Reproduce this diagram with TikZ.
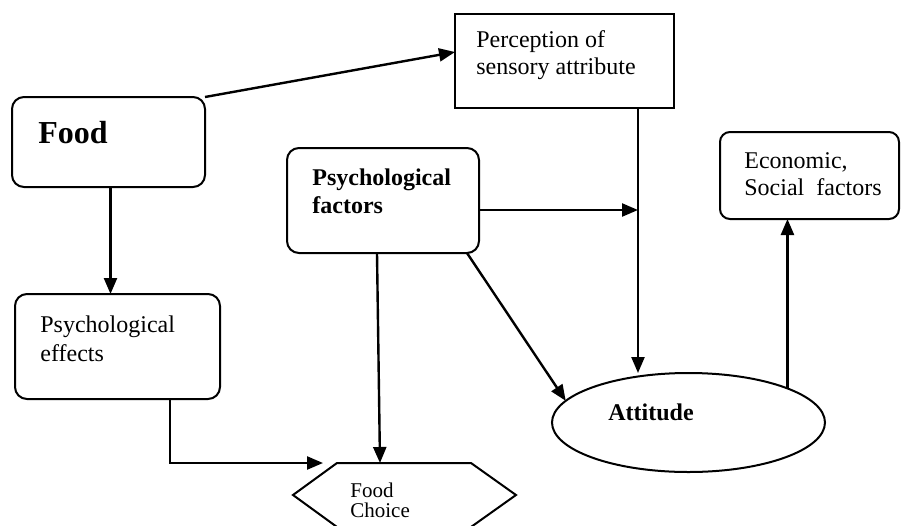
\documentclass[tikz,border=0pt]{standalone}
\usepackage{fontspec}
\setmainfont{Liberation Serif}
\usepackage{tikz}
\usetikzlibrary{arrows.meta,shapes.geometric,calc}

\begin{document}
\begin{tikzpicture}[x=0.5pt,y=-0.5pt,
    every node/.style={font=\fontsize{12}{14}\selectfont},
    roundbox/.style={draw, line width=1pt, rounded corners=6pt, inner sep=0pt, outer sep=0pt},
    plainbox/.style={draw, line width=1pt, inner sep=0pt, outer sep=0pt},
    boxtext/.style={anchor=base west, align=left, inner sep=0pt},
    arr/.style={-{Triangle[length=8pt,width=6.5pt]}, line width=1.2pt}]
  \useasboundingbox (0,0) rectangle (902,526);
  % boxes
  \node[roundbox, minimum width=96.5pt, minimum height=45pt] (food) at (108.5,142) {};
  \node[plainbox, minimum width=109.5pt, minimum height=47pt] (perc) at (564.5,61) {};
  \node[roundbox, minimum width=96pt, minimum height=52.5pt] (psyf) at (383,200.5) {};
  \node[roundbox, rounded corners=5pt, minimum width=89.5pt, minimum height=43.5pt] (econ) at (809.5,175.5) {};
  \node[roundbox, minimum width=102.5pt, minimum height=52.5pt] (psye) at (117.5,346.5) {};
  \node[ellipse, draw, line width=1pt, inner sep=0pt, outer sep=0pt, minimum width=136.5pt, minimum height=49.5pt] (att) at (688.5,422.5) {};
  \coordinate (ctl) at (337,463);
  \draw[line width=1pt] (293,495) -- (ctl) -- (471,463) -- (516,495) -- (471,527) -- (337,527) -- cycle;
  % texts (base = last line)
  \node[boxtext, font=\fontsize{16}{18}\selectfont\bfseries] (foodtxt) at (38,143) {Food};
  \node[boxtext, font=\fontsize{12}{13.5}\selectfont] (perctxt) at (476,74) {Perception of\\sensory attribute};
  \node[boxtext, font=\fontsize{12}{14}\selectfont\bfseries] (psyftxt) at (312,213) {Psychological\\factors};
  \node[boxtext, font=\fontsize{12}{13.5}\selectfont] (econtxt) at (744,195) {Economic,\\Social\ \ factors};
  \node[boxtext, font=\fontsize{12}{14.5}\selectfont] (psyetxt) at (40,361) {Psychological\\effects};
  \node[boxtext, font=\fontsize{12}{14}\selectfont\bfseries] (atttxt) at (608,420) {Attitude};
  \node[boxtext, font=\fontsize{10.5}{10}\selectfont] (choice) at (350,517) {Food\\Choice};
  % connectors
  \coordinate (pv) at ([xshift=36.75pt]perc.south);
  \draw[arr] (food.north east) -- ($(perc.west)+(0,-9)$);
  \draw[arr] ([xshift=1pt]food.south) -- ([xshift=1pt]food.south |- psye.north);
  \draw[arr] ([xshift=26.25pt]psye.south) |- ([xshift=-7pt]ctl);
  \draw[arr] ([xshift=-3pt]psyf.south) -- ([xshift=21.5pt]ctl);
  \draw[arr] ([yshift=-4.75pt]psyf.east) -- ([yshift=-4.75pt]psyf.east -| pv);
  \draw[arr] (pv) -- (pv |- att.north);
  \draw[arr] ([xshift=-6pt]psyf.south east) -- (att.170);
  \draw[arr] (att.19) -- (att.19 |- econ.south);
\end{tikzpicture}
\end{document}
